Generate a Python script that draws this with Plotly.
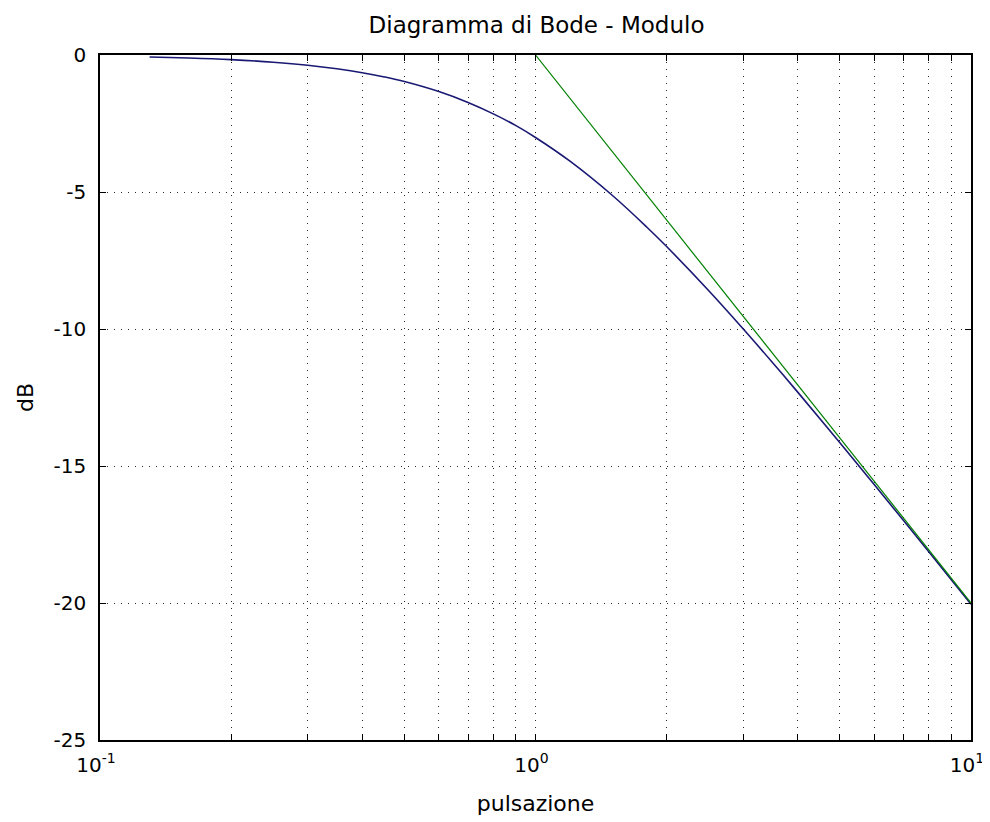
import plotly.graph_objects as go

# Data
pulsazione = [0.13, 0.16, 0.2, 0.25, 0.3, 0.35, 0.4, 0.45, 0.5, 0.6, 0.7, 0.8, 0.9,
              1.0, 1.2, 1.5, 1.8, 2.0, 2.5, 3.0, 3.5, 4.0, 5.0, 6.0, 7.0, 8.0, 9.0, 10.0]
modulo_db = [-0.073, -0.110, -0.170, -0.263, -0.374, -0.504, -0.645, -0.802, -0.969,
             -1.335, -1.733, -2.148, -2.569, -3.010, -3.875, -5.119, -6.276, -6.990, -8.603,
             -10.0, -11.222, -12.304, -14.150, -15.682, -16.990, -18.129, -19.138, -20.043]
asintoto_w = [1.0, 10.0]
asintoto_db = [0.0, -20.0]

x_tickvals = [0.1, 0.2, 0.3, 0.4, 0.5, 0.6, 0.7, 0.8, 0.9,
              1, 2, 3, 4, 5, 6, 7, 8, 9, 10]
x_ticktext = ["10<sup>-1</sup>", "", "", "", "", "", "", "", "",
              "10<sup>0</sup>", "", "", "", "", "", "", "", "", "10<sup>1</sup>"]
y_tickvals = [-25, -20, -15, -10, -5, 0]
y_ticktext = ["-25", "-20", "-15", "-10", "-5", "0"]

title_text = "Diagramma di Bode - Modulo"
x_title = "pulsazione"
y_title = "dB"

FONT = "DejaVu Sans"
# the page body has an 8px margin, so the figure is sized/offset accordingly
W, H = 982, 814

fig = go.Figure()
fig.add_trace(go.Scatter(x=pulsazione, y=modulo_db, mode="lines",
                         line=dict(color="rgb(25,25,115)", width=1.6, shape="spline"),
                         showlegend=False))
fig.add_trace(go.Scatter(x=asintoto_w, y=asintoto_db, mode="lines",
                         line=dict(color="rgb(0,128,0)", width=1.2),
                         showlegend=False))

axis_common = dict(
    showline=True, linecolor="black", linewidth=1.5, mirror="ticks",
    ticks="inside", ticklen=6, tickcolor="black", tickwidth=1.2,
    showgrid=True, gridcolor="rgb(40,40,40)", gridwidth=1.2, griddash="1px,6px",
    zeroline=False, automargin=False,
    tickfont=dict(family=FONT, size=20, color="black"),
)

fig.update_layout(
    width=W, height=H,
    margin=dict(l=92, r=19, t=47, b=82),
    paper_bgcolor="white", plot_bgcolor="white",
    title=dict(text=title_text, x=(536.5 - 8) / W, xanchor="center",
               y=1 - 17 / H, yref="container", yanchor="middle",
               font=dict(family=FONT, size=23, color="black")),
    xaxis=dict(type="log", range=[-1, 1], tickvals=x_tickvals, ticktext=x_ticktext,
               ticklabelstandoff=6, ticklabelshift=-4,
               title=dict(text=x_title, standoff=20,
                          font=dict(family=FONT, size=22, color="black")),
               **axis_common),
    yaxis=dict(range=[-25, 0], tickvals=y_tickvals, ticktext=y_ticktext,
               ticklabelstandoff=8,
               title=dict(text=y_title, standoff=14,
                          font=dict(family=FONT, size=22, color="black")),
               **axis_common),
)

fig.write_html("out.html")
